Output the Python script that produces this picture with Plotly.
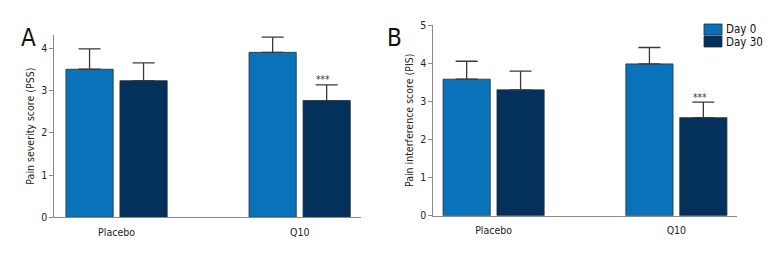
import plotly.graph_objects as go

categories = ["Placebo", "Q10"]
series_names = ["Day 0", "Day 30"]

pss_day0 = [3.50, 3.90]
pss_day30 = [3.23, 2.76]
pss_err_day0 = [0.48, 0.36]
pss_err_day30 = [0.42, 0.37]

pis_day0 = [3.58, 3.98]
pis_day30 = [3.30, 2.57]
pis_err_day0 = [0.47, 0.43]
pis_err_day30 = [0.49, 0.41]

sig_labels = ["", "***"]

colors = ["#0a72b8", "#04305c"]
FONT = "Liberation Sans Narrow, DejaVu Sans Condensed, Roboto Condensed, Arial Narrow, sans-serif"

W, H = 780, 264
OFF = 8  # page body margin compensation

fig = go.Figure()

panels = [
    ("x", "y", [pss_day0, pss_day30], [pss_err_day0, pss_err_day30]),
    ("x2", "y2", [pis_day0, pis_day30], [pis_err_day0, pis_err_day30]),
]
for xa, ya, vals, errs in panels:
    for i, name in enumerate(series_names):
        fig.add_trace(go.Bar(
            x=categories, y=vals[i], name=name, xaxis=xa, yaxis=ya,
            marker=dict(color=colors[i], line=dict(color="#1f2f3f", width=0.8)),
            error_y=dict(type="data", array=errs[i], symmetric=False,
                         arrayminus=[0] * len(errs[i]),
                         color="#3a3a3a", thickness=1.3, width=11),
            showlegend=False, offsetgroup=str(i),
        ))
    for j, c in enumerate(categories):
        if sig_labels[j]:
            top = vals[1][j] + errs[1][j]
            fig.add_annotation(x=c, y=top, xref=xa, yref=ya, text=sig_labels[j],
                               showarrow=False, xshift=23.5, yshift=5,
                               font=dict(family=FONT, size=10, color="#333"))

def px_x(p):
    return (p - OFF) / W

def px_y(p):
    return (H - (p - OFF)) / H

axis_common = dict(showline=True, linecolor="#8a8a8a", linewidth=1, showgrid=False,
                   zeroline=False, automargin=False,
                   tickfont=dict(family=FONT, size=10.5, color="#222"))

fig.update_layout(
    template="none",
    width=W, height=H,
    margin=dict(l=0, r=0, t=0, b=0, autoexpand=False),
    paper_bgcolor="white", plot_bgcolor="white",
    showlegend=False,
    barmode="group", bargap=0.41, bargroupgap=0.125,
    font=dict(family=FONT, color="#222"),
    xaxis=dict(domain=[px_x(54.3), px_x(361)], range=[-0.34, 1.335], ticks="outside",
               ticklen=5, tickcolor="rgba(0,0,0,0)", anchor="y", **axis_common),
    yaxis=dict(domain=[px_y(217.3), px_y(35)], range=[0, 4.31], ticks="outside",
               ticklen=4, tickcolor="#8a8a8a", dtick=1, anchor="x",
               title=dict(text="Pain severity score (PSS)", standoff=4,
                          font=dict(family=FONT, size=10.5, color="#222")),
               **axis_common),
    xaxis2=dict(domain=[px_x(433.3), px_x(736.7)], range=[-0.33, 1.33], ticks="outside",
                ticklen=5, tickcolor="rgba(0,0,0,0)", anchor="y2", **axis_common),
    yaxis2=dict(domain=[px_y(215.7), px_y(25)], range=[0, 5], ticks="outside",
                ticklen=4, tickcolor="#8a8a8a", dtick=1, anchor="x2",
                title=dict(text="Pain interference score (PIS)", standoff=4,
                           font=dict(family=FONT, size=10.5, color="#222")),
                **axis_common),
)

fig.add_annotation(x=px_x(19), y=px_y(22), xref="paper", yref="paper", text="A",
                   showarrow=False, font=dict(family=FONT, size=24, color="#111"))
fig.add_annotation(x=px_x(394), y=px_y(22), xref="paper", yref="paper", text="B",
                   showarrow=False, font=dict(family=FONT, size=24, color="#111"))

leg_top = 24
for i, name in enumerate(series_names):
    y0 = leg_top + i * 12
    fig.add_shape(type="rect", xref="paper", yref="paper",
                  x0=px_x(704), x1=px_x(722), y0=px_y(y0 + 11), y1=px_y(y0),
                  fillcolor=colors[i], line=dict(color="#1f2f3f", width=0.8))
    fig.add_annotation(x=px_x(724), y=px_y(y0 + 5.5), xref="paper", yref="paper",
                       text=name, showarrow=False, xanchor="left", yanchor="middle",
                       font=dict(family=FONT, size=11.5, color="#111"))

fig.write_html("out.html")
